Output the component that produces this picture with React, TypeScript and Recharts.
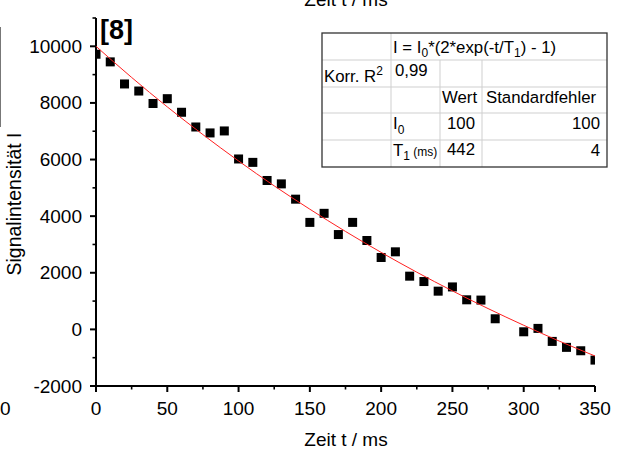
import React from 'react';
import { ScatterChart, Scatter, XAxis, YAxis } from 'recharts';

const times = [0, 10, 20, 30, 40, 50, 60, 70, 80, 90, 100, 110, 120, 130, 140, 150, 160, 170, 180, 190, 200, 210, 220, 230, 240, 250, 260, 270, 280, 300, 310, 320, 330, 340, 350];
const intensities = [9720, 9450, 8670, 8420, 7980, 8150, 7670, 7150, 6940, 7010, 6020, 5900, 5260, 5140, 4600, 3780, 4100, 3350, 3780, 3140, 2540, 2740, 1880, 1690, 1350, 1500, 1045, 1035, 375, -85, 35, -425, -635, -755, -1085];

const fitTimes = [0, 25, 50, 75, 100, 125, 150, 175, 200, 225, 250, 275, 300, 325, 350];
const fitValues = [10000, 8900, 7860, 6880, 5950, 5070, 4245, 3460, 2720, 2020, 1360, 735, 145, -415, -940];

const xTicks = [0, 25, 50, 75, 100, 125, 150, 175, 200, 225, 250, 275, 300, 325, 350];
const yTicks = [-2000, -1000, 0, 1000, 2000, 3000, 4000, 5000, 6000, 7000, 8000, 9000, 10000, 11000];

const xTitle = 'Zeit t / ms';
const yTitle = 'Signalintensität I';
const panelTag = '[8]';

const FONT = '"Liberation Sans", Arial, Helvetica, sans-serif';

const points = times.map((t, i) => ({ t, I: intensities[i] }));
const fit = fitTimes.map((t, i) => ({ t, I: fitValues[i] }));

const YTick = (props: any) => {
  const { x, y, payload } = props;
  const v = payload.value as number;
  const major = v % 2000 === 0 && v <= 10000;
  return (
    <g>
      <line x1={x} x2={x - (major ? 6 : 3.5)} y1={y} y2={y} stroke="#000" strokeWidth={major ? 2 : 1.6} />
      {major && (
        <text x={x - 14} y={y} textAnchor="end" dominantBaseline="central" fontFamily={FONT} fontSize={19} fill="#000">
          {v}
        </text>
      )}
    </g>
  );
};

const XTick = (props: any) => {
  const { x, y, payload } = props;
  const v = payload.value as number;
  const major = v % 50 === 0;
  return (
    <g>
      <line x1={x} x2={x} y1={y} y2={y + (major ? 6 : 3.5)} stroke="#000" strokeWidth={major ? 2 : 1.6} />
      {major && (
        <text x={x} y={y + 29} textAnchor="middle" fontFamily={FONT} fontSize={19} fill="#000">
          {v}
        </text>
      )}
    </g>
  );
};

const Square = (p: any) => (
  <rect x={p.cx - 4.5} y={p.cy - 4.5} width={9} height={9} fill="#000" />
);
const NoShape = () => <g />;

const cellFont = { fontFamily: FONT, fontSize: 16.8, fill: '#000' } as any;
const SUB = 12;

export default function App() {
  return (
    <div style={{ position: 'absolute', left: 0, top: 0, width: 624, height: 453, background: '#fff' }}>
      <ScatterChart width={624} height={453} margin={{ top: 18, right: 29, bottom: 0, left: 0 }}>
        <XAxis
          type="number"
          dataKey="t"
          domain={[0, 350]}
          ticks={xTicks}
          interval={0}
          tickLine={false}
          tickSize={0}
          tickMargin={0}
          height={67}
          axisLine={{ stroke: '#000', strokeWidth: 2 }}
          tick={<XTick />}
          allowDataOverflow
        />
        <YAxis
          type="number"
          dataKey="I"
          domain={[-2000, 11000]}
          ticks={yTicks}
          interval={0}
          tickLine={false}
          tickSize={0}
          tickMargin={0}
          width={96}
          axisLine={{ stroke: '#000', strokeWidth: 2 }}
          tick={<YTick />}
          allowDataOverflow
        />
        <Scatter data={points} shape={<Square />} isAnimationActive={false} />
        <Scatter
          data={fit}
          shape={<NoShape />}
          line={{ stroke: '#ff2020', strokeWidth: 1 }}
          lineJointType="monotoneX"
          isAnimationActive={false}
        />
      </ScatterChart>
      <svg width={624} height={453} style={{ position: 'absolute', left: 0, top: 0, pointerEvents: 'none' }}>
        <text x={346} y={6} textAnchor="middle" fontFamily={FONT} fontSize={19} fill="#000">{xTitle}</text>
        <text x={346} y={446} textAnchor="middle" fontFamily={FONT} fontSize={19} fill="#000">{xTitle}</text>
        <text x={0} y={415} fontFamily={FONT} fontSize={19} fill="#000">0</text>
        <text transform="translate(14,204) rotate(-90)" textAnchor="middle" dominantBaseline="central" fontFamily={FONT} fontSize={19.5} fill="#000">{yTitle}</text>
        <text x={100} y={39} fontFamily={FONT} fontSize={27} fontWeight="bold" fill="#000">{panelTag}</text>
        <line x1={0.5} x2={0.5} y1={27} y2={127} stroke="#777" strokeWidth={1} />
        <g>
          <rect x={322} y={33} width={285} height={134} fill="#fff" />
          {[60, 87, 113, 140].map((yy) => (
            <line key={yy} x1={322} x2={607} y1={yy} y2={yy} stroke="#cfcfcf" strokeWidth={1} />
          ))}
          <line x1={391} x2={391} y1={33} y2={167} stroke="#cfcfcf" strokeWidth={1} />
          <line x1={440} x2={440} y1={60} y2={167} stroke="#cfcfcf" strokeWidth={1} />
          <line x1={482} x2={482} y1={60} y2={167} stroke="#cfcfcf" strokeWidth={1} />
          <rect x={322} y={33} width={285} height={134} fill="none" stroke="#333" strokeWidth={1.3} />
          <text x={393} y={53} {...cellFont}>
            I = I<tspan fontSize={SUB} dy={4}>0</tspan><tspan dy={-4}>*(2*exp(-t/T</tspan><tspan fontSize={SUB} dy={4}>1</tspan><tspan dy={-4}>) - 1)</tspan>
          </text>
          <text x={324} y={82} {...cellFont}>
            Korr. R<tspan fontSize={SUB} dy={-7}>2</tspan>
          </text>
          <text x={395} y={76} {...cellFont}>0,99</text>
          <text x={442} y={103} {...cellFont}>Wert</text>
          <text x={486} y={103} {...cellFont}>Standardfehler</text>
          <text x={393} y={129} {...cellFont}>
            I<tspan fontSize={SUB} dy={5}>0</tspan>
          </text>
          <text x={475} y={129} textAnchor="end" {...cellFont}>100</text>
          <text x={600} y={129} textAnchor="end" {...cellFont}>100</text>
          <text x={393} y={156} {...cellFont}>
            T<tspan fontSize={SUB} dy={4}>1</tspan><tspan fontSize={SUB} dy={-4}> (ms)</tspan>
          </text>
          <text x={475} y={155} textAnchor="end" {...cellFont}>442</text>
          <text x={600} y={156} textAnchor="end" {...cellFont}>4</text>
        </g>
      </svg>
    </div>
  );
}
